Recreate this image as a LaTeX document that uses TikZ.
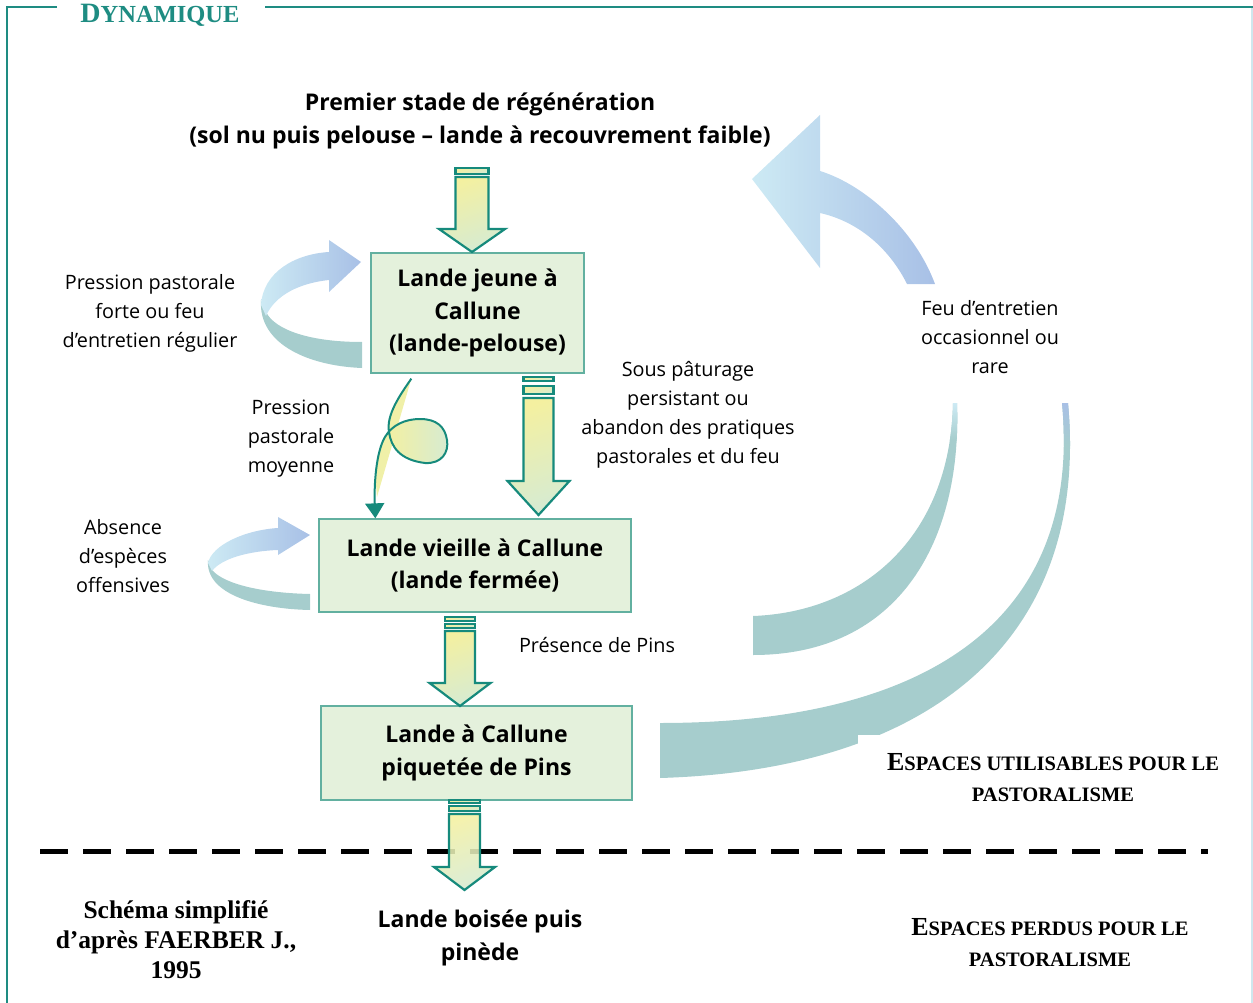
\documentclass[tikz,border=0pt]{standalone}
\usepackage{fontspec}
\setmainfont{Open Sans}
\newfontfamily\tnr{Liberation Serif}
\usetikzlibrary{arrows.meta,calc}
\definecolor{framec}{HTML}{1E8C82}
\definecolor{boxfill}{HTML}{E4F1DC}
\definecolor{boxline}{HTML}{62B0A0}
\definecolor{arrline}{HTML}{168A7C}
\definecolor{arrtop}{HTML}{F4F0A0}
\definecolor{arrbot}{HTML}{D6EBD2}
\definecolor{loopteal}{HTML}{A6CDCD}
\definecolor{lblue}{HTML}{CDEAF4}
\definecolor{mblue}{HTML}{A8C0E6}
\definecolor{rightline}{HTML}{CFE7EE}
\definecolor{cyell}{HTML}{F0F0A8}
\tikzset{
  box/.style={draw=boxline, line width=1.3pt, fill=boxfill, align=center, inner sep=0pt,
    font=\bfseries\fontsize{23}{32.5}\selectfont},
  lbl/.style={align=center, inner sep=0pt, font=\fontsize{19.8}{29}\selectfont},
  blbl/.style={align=center, inner sep=0pt, font=\bfseries\fontsize{23}{33}\selectfont},
  tlbl/.style={align=center, inner sep=0pt, font=\tnr\bfseries\fontsize{25.5}{30}\selectfont},
  barrow/.style={top color=arrtop, bottom color=arrbot, shading angle=20, draw=arrline, line width=2.2pt, line join=miter},
}
\newcommand\barr[6]{\shadedraw[barrow] (#1-#5,#2) -- (#1+#5,#2) -- (#1+#5,#3) -- (#1+#6,#3) -- (#1,#4) -- (#1-#6,#3) -- (#1-#5,#3) -- cycle;}
\newcommand\bbar[4]{\shadedraw[barrow] (#1-#2,#3) rectangle (#1+#2,#4);}
\begin{document}
\begin{tikzpicture}[x=1pt,y=-1pt]
\useasboundingbox (0,0) rectangle (1253,1003);
% frame
\draw[framec, line width=2pt] (57,7) -- (7,7) -- (7,1003);
\draw[framec, line width=2pt] (265,7) -- (1253,7);
\draw[rightline, line width=1.5pt] (1252,8) -- (1252,1003);
\node[anchor=base, text=framec, inner sep=0pt] (title) at (160,22.5)
  {\tnr\bfseries\fontsize{28}{28}\selectfont D\fontsize{24.5}{24.5}\selectfont YNAMIQUE};

% big upper-right arrow
\shade[left color=lblue, middle color=lblue!90!mblue, right color=mblue]
  (752,179) -- (820,115) -- (820,171) .. controls (865,185) and (915,230) .. (935,284)
  -- (907,284) .. controls (890,250) and (860,222) .. (820,213) -- (820,268) -- cycle;

% inner arc
\begin{scope}
\clip (753,616) .. controls (860,612) and (950,540) .. (953,403) -- (957,403)
  .. controls (962,540) and (900,655) .. (753,655) -- cycle;
\fill[loopteal] (740,400) rectangle (970,660);
\shade[top color=lblue, bottom color=loopteal] (940,403) rectangle (970,440);
\end{scope}
% outer arc
\begin{scope}
\clip (660,723) .. controls (935,723) and (1082,615) .. (1062,403) -- (1068,403)
  .. controls (1090,640) and (930,770) .. (660,778) -- cycle;
\fill[loopteal] (650,400) rectangle (1100,790);
\shade[top color=mblue, bottom color=loopteal] (1040,403) rectangle (1090,445);
\end{scope}

% boxes
\node[box, minimum width=213, minimum height=120] (b1) at (477.5,313) {Lande jeune à\\Callune\\(lande-pelouse)};
\node[box, minimum width=312, minimum height=93] (b2) at (475,565.5) {Lande vieille à Callune\\(lande fermée)};
\node[box, minimum width=311, minimum height=94] (b3) at (476.5,753) {Lande à Callune\\piquetée de Pins};

% top text
\node[blbl] (top) at (480,121) {Premier stade de régénération\\(sol nu puis pelouse – lande à recouvrement faible)};
\node[blbl] (end) at (480,938) {Lande boisée puis\\pinède};

% dashed line
\coordinate (dl) at (40,851);
\coordinate (dr) at (1208,851);
\draw[line width=5pt, dash pattern=on 28pt off 15pt] (dl) -- (dr);

% block arrows
\bbar{472}{16.5}{168}{174}
\barr{472}{177}{229}{252}{16.5}{33}
\bbar{538.5}{15}{377}{381}
\bbar{538.5}{15}{386}{394}
\barr{538.5}{398}{481}{515}{15}{31}
\bbar{460}{15}{617}{621}
\bbar{460}{15}{624}{628}
\barr{460}{631}{683}{706}{15}{30.5}
\bbar{464.5}{15.5}{800}{803}
\bbar{464.5}{15.5}{806}{811}
\begin{scope}[fill opacity=0.88]
\barr{464.5}{814}{867}{890}{15.5}{30.5}
\end{scope}

% loop arrows
\fill[loopteal] (261,300) .. controls (258,345) and (310,366) .. (362,368) -- (362,342)
  .. controls (310,342) and (275,330) .. (266,312) -- cycle;
\shade[left color=lblue, right color=mblue] (329,240) -- (361,262) -- (329,292) -- (329,280)
  .. controls (300,283) and (275,295) .. (266,316) -- (261,305)
  .. controls (263,272) and (295,254) .. (329,252) -- cycle;
\fill[loopteal] (208,560) .. controls (205,595) and (260,609) .. (310,610) -- (310,594)
  .. controls (265,593) and (225,585) .. (212,570) -- cycle;
\shade[left color=lblue, right color=mblue] (278,517) -- (310,535) -- (278,555) -- (278,550)
  .. controls (250,551) and (222,558) .. (212,571) -- (208,563)
  .. controls (212,545) and (245,530) .. (278,528) -- cycle;

% curly arrow
\coordinate (cs) at ($(b1.south west)+(41,5)$);
\coordinate (ce) at ($(b2.north west)+(57,0)$);
\fill[cyell] (cs) .. controls (400,395) and (386,415) .. (389,432) -- (385,437)
  .. controls (376,452) and (375,480) .. (377,497) -- cycle;
\shade[left color=arrtop, right color=arrbot] (389,432) .. controls (391,447) and (400,460) .. (425,463)
  .. controls (442,464) and (449,452) .. (447,440) .. controls (445,427) and (437,419) .. (420,419)
  .. controls (405,419) and (392,425) .. (385,437) -- cycle;
\draw[arrline, line width=2pt, -{Triangle[width=19pt,length=15pt]}]
  (cs) .. controls (400,395) and (386,415) .. (389,432)
  .. controls (391,447) and (400,460) .. (425,463)
  .. controls (442,464) and (449,452) .. (447,440)
  .. controls (445,427) and (437,419) .. (420,419)
  .. controls (405,419) and (392,425) .. (385,437)
  .. controls (376,452) and (374,485) .. (ce);

% labels
\node[lbl] (l1) at (150,313) {Pression pastorale\\forte ou feu\\d’entretien régulier};
\node[lbl] (l2) at (291,439) {Pression\\pastorale\\moyenne};
\node[lbl] (l3) at (123,556.5) {Absence\\d’espèces\\offensives};
\node[lbl] (l4) at (688,415) {Sous pâturage\\persistant ou\\abandon des pratiques\\pastorales et du feu};
\node[lbl] (l5) at (990,337.5) {Feu d’entretien\\occasionnel ou\\rare};
\node[lbl] (l6) at (597,645) {Présence de Pins};

\node[fill=white, minimum width=390, minimum height=85, inner sep=0pt] (eu) at (1053,777.5) {};
\node[tlbl, font=\tnr\bfseries\fontsize{20.5}{31}\selectfont] (eut) at (1053,777.5)
  {{\fontsize{26}{31}\selectfont E}SPACES UTILISABLES POUR LE\\PASTORALISME};
\node[tlbl, font=\tnr\bfseries\fontsize{20.5}{31}\selectfont] (ep) at (1050,942.5)
  {{\fontsize{26}{31}\selectfont E}SPACES PERDUS POUR LE\\PASTORALISME};
\node[tlbl] (src) at (176,940) {Schéma simplifié\\d’après FAERBER J.,\\1995};
\end{tikzpicture}
\end{document}
